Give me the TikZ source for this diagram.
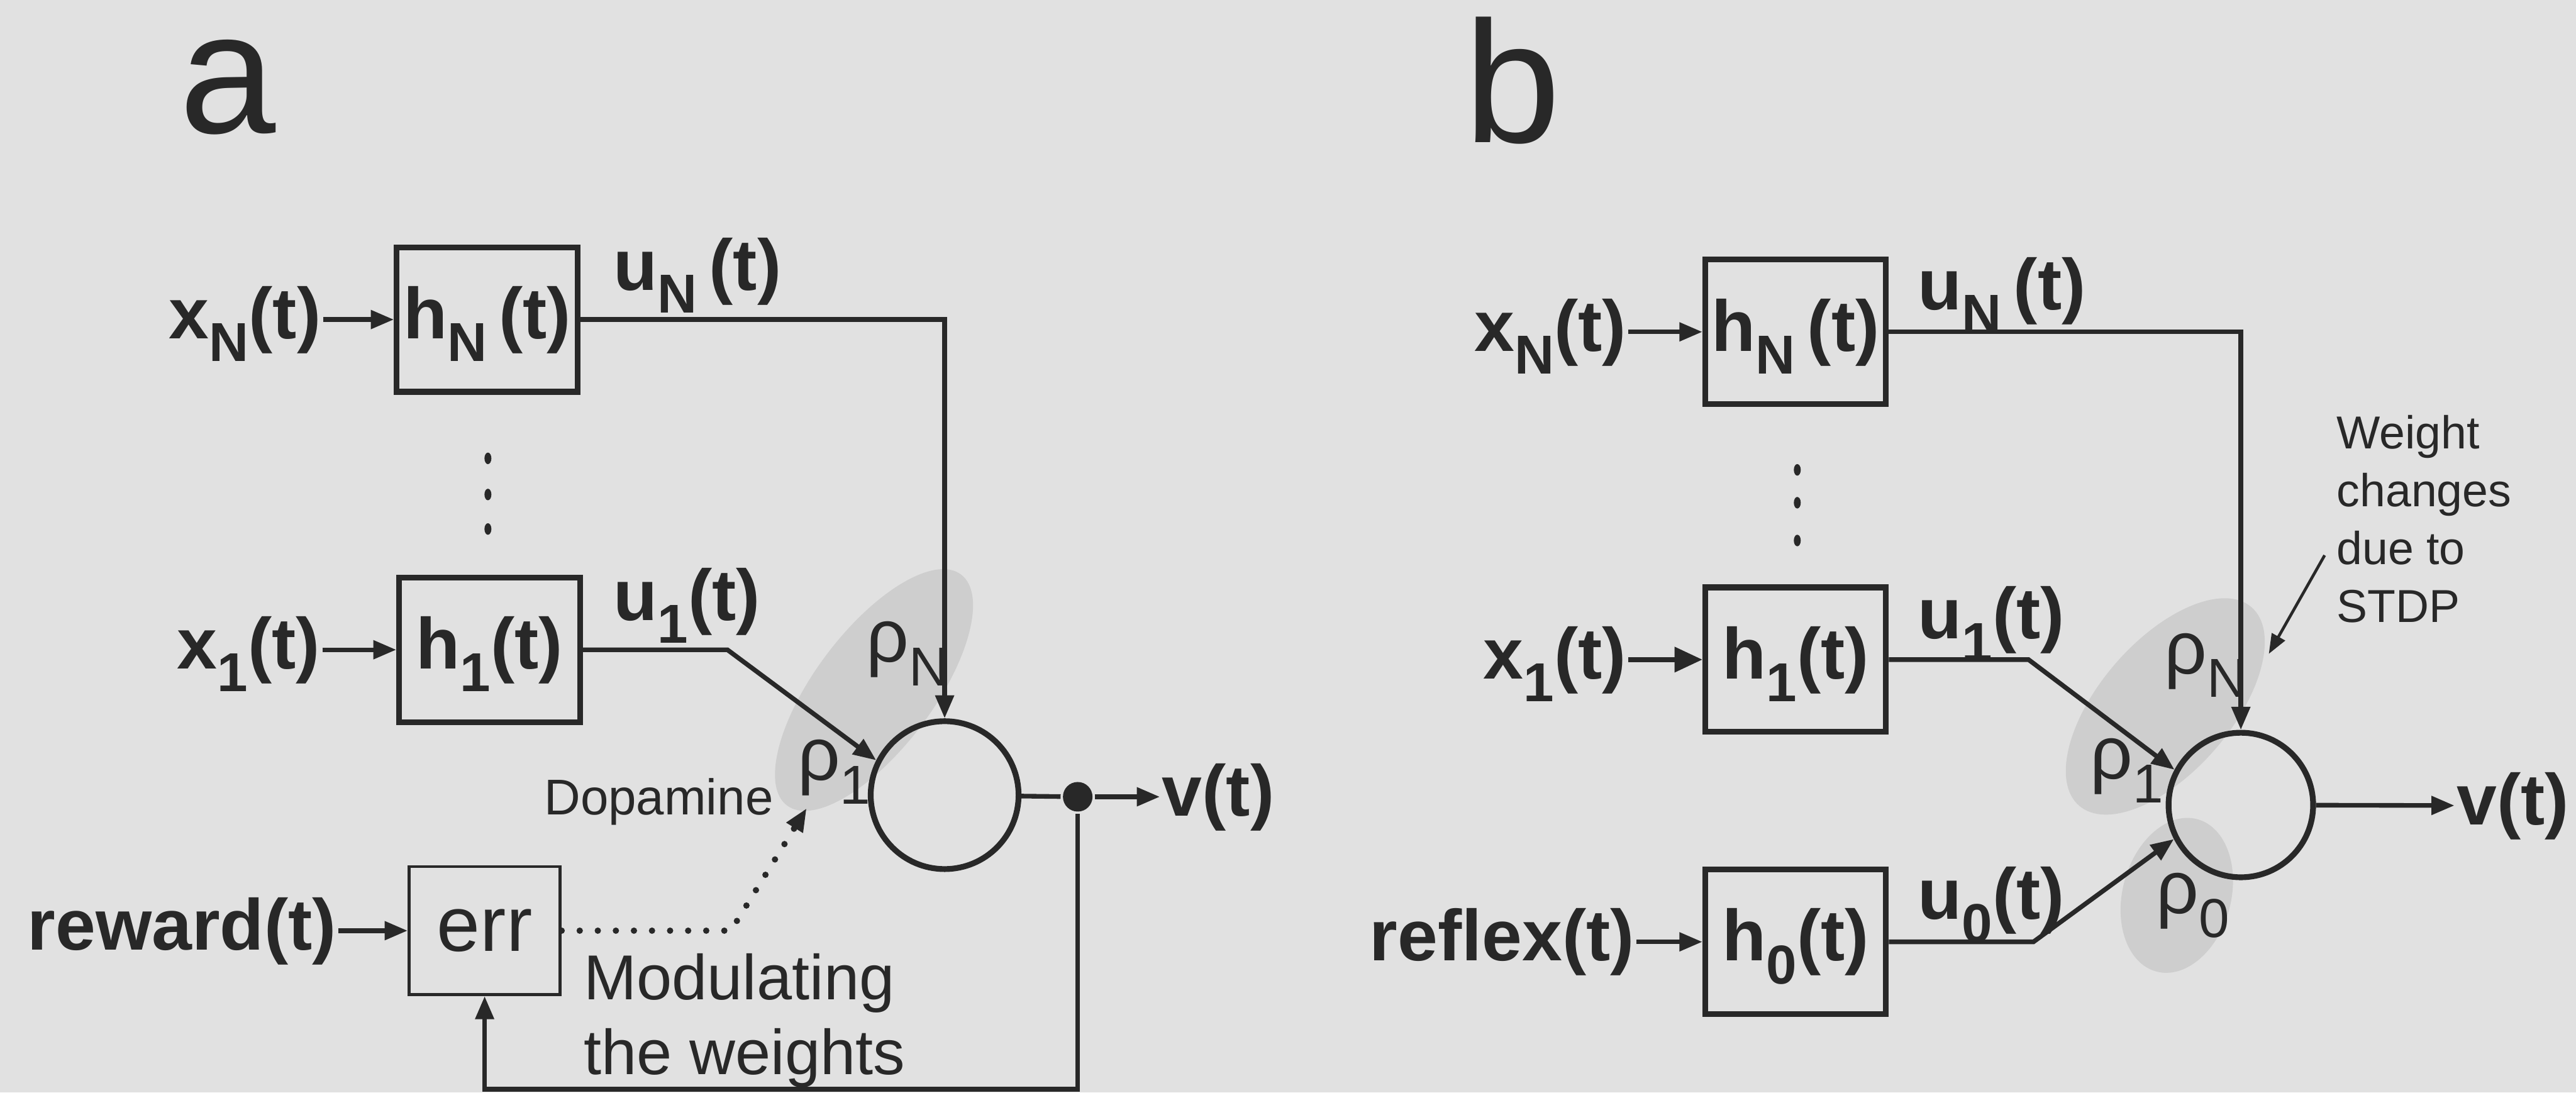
\documentclass[tikz,border=0pt]{standalone}
\usepackage{fontspec}
\setmainfont{Liberation Sans}
\usetikzlibrary{arrows.meta, positioning}

\definecolor{paper}{RGB}{225,225,225}
\definecolor{ink}{RGB}{40,40,40}
\definecolor{hazec}{RGB}{206,206,206}
\newcommand{\sbs}[1]{\raisebox{-0.6ex}{\fontsize{9.5}{10}\selectfont #1}}

\begin{document}
\begin{tikzpicture}[x=0.1mm, y=-0.1mm, line width=0.8pt, color=ink,
    blk/.style={draw, line width=1pt, minimum width=11mm, minimum height=8.8mm, inner sep=0pt,
      font=\bfseries\fontsize{12.5}{15}\selectfont, text height=9.2pt, text depth=2.6pt},
    gate/.style={draw, line width=0.5pt, minimum width=9.2mm, minimum height=7.8mm, inner sep=0pt,
      font=\fontsize{13.5}{15}\selectfont},
    sig/.style={inner sep=0pt, font=\bfseries\fontsize{12.5}{15}\selectfont, text height=9.2pt, text depth=2.6pt},
    soma/.style={circle, draw, line width=1pt, minimum size=9mm, inner sep=0pt},
    wt/.style={inner sep=0pt, font=\fontsize{13}{15}\selectfont, anchor=base west},
    tag/.style={inner sep=0pt, font=\fontsize{30}{30}\selectfont, anchor=base west},
    note/.style={inner sep=0pt, align=left, anchor=north west},
    tap/.style={circle, fill=ink, minimum size=1.8mm, inner sep=0pt},
    arr/.style={-{Triangle[length=1.4mm,width=1.1mm]}},
    haze/.style={fill=hazec}]
  \useasboundingbox (0,0) rectangle (1568,665);
  \fill[paper] (0,0) rectangle (1568,665);

  % weight areas
  \fill[haze, rotate around={53:(532,420)}] (532,420) ellipse [x radius=88, y radius=36];
  \fill[haze, rotate around={49:(1318,430)}] (1318,430) ellipse [x radius=80, y radius=40];
  \fill[haze, rotate around={-15:(1325,545)}] (1325,545) ellipse [x radius=33, y radius=48];

  % panel a
  \node[tag] (taga) at (108,81) {a};
  \node[blk] (hNa) at (296.5,194.5) {h\sbs{N}\,(t)};
  \node[blk] (h1a) at (298,395.5) {h\sbs{1}(t)};
  \node[gate] (err) at (295,566.5) {err};
  \node[soma] (sa) at (575,484) {};
  \node[tap] (ja) at (656,485) {};

  \node[sig, left=4.3mm of hNa] (xNa) {x\sbs{N}(t)};
  \node[sig, left=4.5mm of h1a] (x1a) {x\sbs{1}(t)};
  \node[sig, left=4.2mm of err] (rwd) {reward(t)};
  \node[sig, anchor=west] (uNa) at (372,165) {u\sbs{N}\,(t)};
  \node[sig, anchor=west] (u1a) at (372,366) {u\sbs{1}(t)};
  \node[sig, anchor=west] (va) at (706,485) {v(t)};
  \node[wt] (rNa) at (526,403) {ρ\sbs{N}};
  \node[wt] (r1a) at (484,475) {ρ\sbs{1}};
  \node[inner sep=0pt, font=\fontsize{8.7}{10}\selectfont] (dopa) at (401,488) {Dopamine};
  \node[note, font=\fontsize{11}{13}\selectfont] (moda) at (354,579) {Modulating\\the weights};
  \coordinate (da) at (491,492);
  \foreach \y in {279,301,322}
    \fill (297,\y) ellipse [x radius=0.6pt, y radius=1pt];

  \draw[arr] (xNa) -- (hNa);
  \draw[arr] (x1a) -- (h1a);
  \draw[arr] (rwd) -- (err);
  \draw[arr] (hNa) -| (sa);
  \draw[arr] (h1a.east) -- ++(88,0) -- (sa.153);
  \draw (sa) -- (ja);
  \draw[arr] (ja) -- (va);
  \draw[arr] (ja) -- ++(0,178) -| (err);
  \draw[arr, line width=1.1pt, line cap=round, dash pattern=on 0pt off 1.1mm]
    (err.east) -- ++(103,0) -- (da);

  % panel b
  \node[tag] (tagb) at (890,86.6) {b};
  \node[blk] (hNb) at (1093,202) {h\sbs{N}\,(t)};
  \node[blk] (h1b) at (1093,401.5) {h\sbs{1}(t)};
  \node[blk] (h0b) at (1093,573.3) {h\sbs{0}(t)};
  \node[soma, minimum size=8.8mm] (sb) at (1364,490) {};

  \node[sig, left=4.5mm of hNb] (xNb) {x\sbs{N}(t)};
  \node[sig, left=4.5mm of h1b] (x1b) {x\sbs{1}(t)};
  \node[sig, left=4.0mm of h0b] (rfx) {reflex(t)};
  \node[sig, anchor=west] (uNb) at (1166,177) {u\sbs{N}\,(t)};
  \node[sig, anchor=west] (u1b) at (1166,377) {u\sbs{1}(t)};
  \node[sig, anchor=west] (u0b) at (1166,548) {u\sbs{0}(t)};
  \node[sig, anchor=west] (vb) at (1494,490.4) {v(t)};
  \node[wt] (rNb) at (1316,410) {ρ\sbs{N}};
  \node[wt] (r1b) at (1271,474) {ρ\sbs{1}};
  \node[wt] (r0b) at (1311,556) {ρ\sbs{0}};
  \node[note, font=\fontsize{8}{10}\selectfont] (stdp) at (1421,251.5) {Weight\\changes\\due to\\STDP};
  \coordinate (sp0) at (1415,338);
  \coordinate (sp1) at (1381,398);
  \foreach \y in {286,306,329}
    \fill (1094,\y) ellipse [x radius=0.6pt, y radius=1pt];

  \draw[arr] (xNb) -- (hNb);
  \draw[-{Triangle[length=1.7mm,width=1.5mm]}] (x1b) -- (h1b);
  \draw[arr] (rfx) -- (h0b);
  \draw[arr] (hNb) -| (sb);
  \draw[arr] (h1b.east) -- ++(85,0) -- (sb.152);
  \draw[arr] (h0b.east) -- ++(88,0) -- (sb.207);
  \draw[arr] (sb) -- (vb);
  \draw[line width=0.5pt, -{Triangle[length=1.2mm,width=0.9mm]}] (sp0) -- (sp1);
\end{tikzpicture}
\end{document}
